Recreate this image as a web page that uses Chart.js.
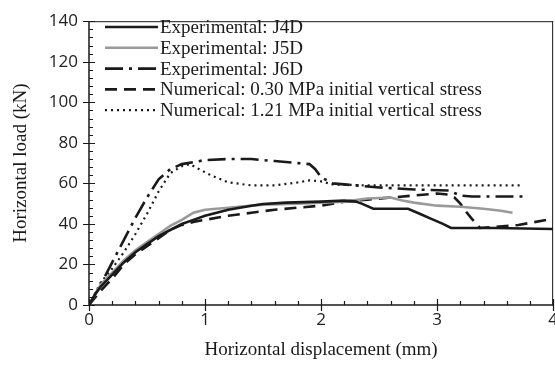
<!DOCTYPE html>
<html>
<head>
    <meta charset="utf-8">
    <script src="https://cdn.jsdelivr.net/npm/chart.js@4.4.1/dist/chart.umd.min.js"></script>
    <style>
        html, body { margin: 0; padding: 0; background: #fff; overflow: hidden; }
        #wrap { width: 563px; height: 368px; }
        canvas { display: block; }
    </style>
</head>
<body>
<div id="wrap">
    <canvas id="myChart" width="563" height="368"></canvas>
</div>

<script>
    // values (x = displacement in mm, y = load in kN)
    var j4dX = [0, 0.05, 0.1, 0.2, 0.3, 0.4, 0.5, 0.6, 0.7, 0.8, 0.9, 1.0, 1.1, 1.2, 1.3, 1.4, 1.5, 1.7, 2.0, 2.2, 2.3, 2.35, 2.45, 2.75, 2.85, 2.95, 3.05, 3.12, 3.5, 4.0];
    var j4dY = [0, 5, 9, 15, 21, 26, 30, 34, 37, 40, 42, 44, 45.5, 47, 48, 49, 49.8, 50.5, 51, 51.5, 51, 50, 47.5, 47.5, 45, 42.5, 40, 38, 38, 37.5];

    var j5dX = [0, 0.1, 0.2, 0.3, 0.4, 0.5, 0.6, 0.7, 0.8, 0.9, 1.0, 1.2, 1.5, 1.8, 2.0, 2.2, 2.4, 2.6, 2.7, 2.8, 3.0, 3.2, 3.4, 3.55, 3.65];
    var j5dY = [0, 10, 16, 22, 27, 31, 35, 39, 42, 45.5, 47, 48, 49.5, 50, 50.5, 51, 52.5, 53, 51.5, 50.5, 49, 48.5, 47.5, 46.5, 45.5];

    var j6dX = [0, 0.1, 0.2, 0.3, 0.4, 0.5, 0.6, 0.7, 0.8, 0.9, 1.0, 1.2, 1.4, 1.6, 1.8, 1.9, 1.95, 2.0, 2.1, 2.5, 2.8, 3.1, 3.2, 3.3, 3.75];
    var j6dY = [0, 10, 21, 32, 43, 53, 62, 67, 69.5, 70.5, 71.5, 72, 72, 71, 70, 69.5, 67, 63, 60, 58, 57, 56.5, 54, 53.5, 53.5];

    var num030X = [0, 0.1, 0.2, 0.3, 0.4, 0.5, 0.6, 0.7, 0.8, 0.9, 1.0, 1.2, 1.4, 1.6, 1.8, 2.0, 2.2, 2.4, 2.6, 2.8, 3.0, 3.1, 3.15, 3.2, 3.25, 3.3, 3.37, 3.5, 3.7, 3.85, 4.0];
    var num030Y = [0, 7, 13, 20, 25, 29, 33, 37, 39.5, 41, 42, 44, 45.5, 47, 48, 49, 51, 52, 53, 54, 55, 54.5, 53, 50, 46, 42.5, 38, 38.5, 39.5, 41, 42.5];

    var num121X = [0, 0.1, 0.2, 0.3, 0.4, 0.5, 0.6, 0.7, 0.8, 0.87, 0.95, 1.05, 1.2, 1.4, 1.6, 1.8, 1.9, 2.0, 2.1, 2.4, 3.0, 3.5, 3.72];
    var num121Y = [0, 11, 18, 26, 35, 45, 56, 65, 68.5, 69.5, 67, 64, 60.5, 59, 59, 60.5, 61.5, 61, 59.5, 59, 59, 59, 59];

    var seriesNames = [
        "Experimental: J4D",
        "Experimental: J5D",
        "Experimental: J6D",
        "Numerical: 0.30 MPa initial vertical stress",
        "Numerical: 1.21 MPa initial vertical stress"
    ];

    var xTicks = [0, 1, 2, 3, 4];
    var yTicks = [0, 20, 40, 60, 80, 100, 120, 140];

    function toPoints(xs, ys) {
        var pts = [];
        for (var i = 0; i < xs.length; i++)
            pts.push({x: xs[i], y: ys[i]});
        return pts;
    }

    function makeSet(name, xs, ys, color, width, dash) {
        return {
            label: name,
            data: toPoints(xs, ys),
            showLine: true,
            borderColor: color,
            backgroundColor: color,
            borderWidth: width,
            borderDash: dash,
            pointRadius: 0,
            tension: 0,
            fill: false
        };
    }

    // frame, ticks (major crossing the axis, minor inside) and the legend
    var framePlugin = {
        id: 'frame',
        afterDatasetsDraw: function (chart) {
            var ctx = chart.ctx;
            var a = chart.chartArea;
            var xs = chart.scales.x, ys = chart.scales.y;
            ctx.save();
            ctx.strokeStyle = '#1a1a1a';
            ctx.setLineDash([]);

            ctx.lineWidth = 1;
            ctx.beginPath();
            ctx.moveTo(a.left, a.top + 0.5);
            ctx.lineTo(a.right, a.top + 0.5);
            ctx.moveTo(a.right - 0.5, a.top);
            ctx.lineTo(a.right - 0.5, a.bottom);
            ctx.stroke();

            ctx.lineWidth = 1.5;
            ctx.beginPath();
            ctx.moveTo(a.left, a.top);
            ctx.lineTo(a.left, a.bottom);
            ctx.lineTo(a.right, a.bottom);
            ctx.stroke();

            ctx.lineWidth = 1.2;
            ctx.beginPath();
            for (var v = 0; v <= 140; v += 4) {
                var py = Math.round(ys.getPixelForValue(v)) + 0.5;
                if (v % 20 === 0) {
                    ctx.moveTo(a.left - 6, py);
                    ctx.lineTo(a.left + 6, py);
                } else {
                    ctx.moveTo(a.left, py);
                    ctx.lineTo(a.left + 4, py);
                }
            }
            for (var k = 0; k <= 20; k++) {
                var px = Math.round(xs.getPixelForValue(k * 0.2)) + 0.5;
                if (k % 5 === 0) {
                    ctx.moveTo(px, a.bottom + 6);
                    ctx.lineTo(px, a.bottom - 6);
                } else {
                    ctx.moveTo(px, a.bottom);
                    ctx.lineTo(px, a.bottom - 4);
                }
            }
            ctx.stroke();

            // legend
            var x0 = 105, x1 = 158, y0 = 27, dy = 20.8;
            ctx.font = '19px "Liberation Serif", "Times New Roman", serif';
            ctx.textBaseline = 'middle';
            ctx.textAlign = 'left';
            chart.data.datasets.forEach(function (ds, i) {
                var y = y0 + i * dy;
                ctx.strokeStyle = ds.borderColor;
                ctx.lineWidth = ds.borderWidth;
                ctx.setLineDash(ds.borderDash || []);
                ctx.beginPath();
                ctx.moveTo(x0, y);
                ctx.lineTo(x1, y);
                ctx.stroke();
                ctx.fillStyle = '#1a1a1a';
                ctx.fillText(ds.label, 160, y + 1);
            });
            ctx.restore();
        }
    };

    var ctx = document.getElementById("myChart");
    var myChart = new Chart(ctx, {
        type: 'scatter',
        data: {
            datasets: [
                makeSet(seriesNames[0], j4dX, j4dY, '#1a1a1a', 2.6, []),
                makeSet(seriesNames[1], j5dX, j5dY, '#9a9a9a', 2.6, []),
                makeSet(seriesNames[2], j6dX, j6dY, '#1a1a1a', 2.6, [18, 6, 3, 6]),
                makeSet(seriesNames[3], num030X, num030Y, '#1a1a1a', 2.6, [12, 7]),
                makeSet(seriesNames[4], num121X, num121Y, '#1a1a1a', 2.2, [2, 4])
            ]
        },
        options: {
            responsive: false,
            animation: false,
            layout: { padding: { top: 14, left: 0, right: 0, bottom: 0 } },
            plugins: {
                legend: { display: false },
                tooltip: { enabled: false }
            },
            scales: {
                x: {
                    type: 'linear',
                    min: 0,
                    max: 4,
                    afterBuildTicks: function (axis) {
                        axis.ticks = xTicks.map(function (v) { return {value: v}; });
                    },
                    afterFit: function (axis) { axis.height = 63; },
                    grid: { display: false, drawTicks: false },
                    border: { display: false },
                    ticks: {
                        color: '#222',
                        padding: 5,
                        maxRotation: 0,
                        autoSkip: false,
                        font: { family: '"Open Sans", sans-serif', size: 17 }
                    },
                    title: {
                        display: true,
                        text: 'Horizontal displacement (mm)',
                        color: '#1a1a1a',
                        padding: { top: 0, bottom: 7 },
                        font: { family: '"Liberation Serif", "Times New Roman", serif', size: 19 }
                    }
                },
                y: {
                    type: 'linear',
                    min: 0,
                    max: 140,
                    afterBuildTicks: function (axis) {
                        axis.ticks = yTicks.map(function (v) { return {value: v}; });
                    },
                    afterFit: function (axis) { axis.width = 89; },
                    grid: { display: false, drawTicks: false },
                    border: { display: false },
                    ticks: {
                        color: '#222',
                        padding: 11,
                        autoSkip: false,
                        font: { family: '"Open Sans", sans-serif', size: 17 }
                    },
                    title: {
                        display: true,
                        text: 'Horizontal load (kN)',
                        color: '#1a1a1a',
                        padding: { top: 10, bottom: 0 },
                        font: { family: '"Liberation Serif", "Times New Roman", serif', size: 19 }
                    }
                }
            }
        },
        plugins: [framePlugin]
    });
</script>
</body>
</html>
